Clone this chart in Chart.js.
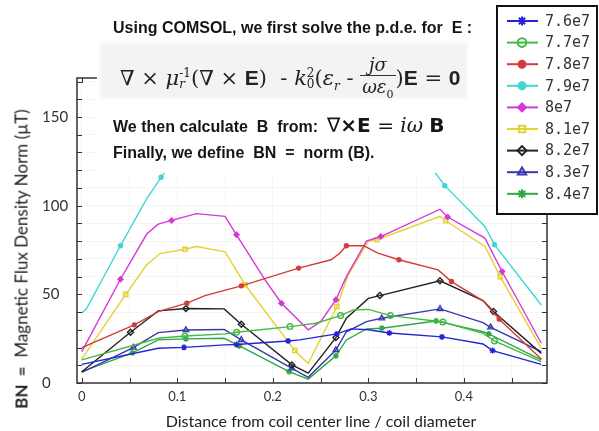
<!DOCTYPE html>
<html>
<head>
<meta charset="utf-8">
<script src="https://cdn.jsdelivr.net/npm/chart.js@4.4.1/dist/chart.umd.min.js"></script>
<style>
  body { margin: 0; background: #fff; }
  #wrap { position: relative; width: 599px; height: 431px; overflow: hidden; }
  #chart { position: absolute; left: 0; top: 0; }
  #notes { position: absolute; left: 97px; top: 0; width: 399px; height: 173px; background: #fff; }
  .line { position: absolute; left: 16px; white-space: pre; font: bold 16px "Liberation Sans", Arial, sans-serif; color: #151515; line-height: 16px; }
  #eqbox { position: absolute; left: 5px; top: 45px; width: 363px; height: 51px; background: #f3f3f3; box-shadow: 0 0 4px 2px #f3f3f3; }
  #eq { position: absolute; left: 23px; top: 54px; white-space: nowrap; font: 21px "DejaVu Serif", serif; color: #222; line-height: 30px; }
  #eq i { font-style: italic; }
  #eq b, .bs { font-family: "Liberation Sans", Arial, sans-serif; font-weight: bold; }
  .ss { display: inline-block; vertical-align: middle; font-size: 12px; line-height: 11px; text-align: left; }
  .ss span { display: block; }
  .frac { display: inline-block; vertical-align: middle; text-align: center; font-size: 18px; line-height: 21px; }
  .frac span { display: block; padding: 0 2px; }
  .frac .num { border-bottom: 1px solid #333; }
  .frml { font: 20px "DejaVu Sans", sans-serif; }
  .frml i { font-family: "DejaVu Serif", serif; font-style: italic; font-weight: normal; }
  #ytitle { position: absolute; left: 21px; top: 259px; transform: translate(-50%, -50%) rotate(-90deg); white-space: pre; font: 17px Lato, sans-serif; color: #222; }
  #xtitle { position: absolute; left: 321px; top: 420px; transform: translate(-50%, -50%); white-space: nowrap; font: 16px Lato, sans-serif; color: #222; }
</style>
</head>
<body>
<div id="wrap">
  <canvas id="chart" width="599" height="431"></canvas>
  <div id="notes">
    <div class="line" style="top:20px">Using COMSOL, we first solve the p.d.e. for  E :</div>
    <div id="eqbox"></div>
    <div id="eq">∇ × <i>μ</i><span class="ss"><span>-1</span><span><i>r</i></span></span>(∇ × <b>E</b>) &nbsp;- <i>k</i><span class="ss"><span>2</span><span>0</span></span>(<i>ε</i><sub style="font-size:12px"><i>r</i></sub> - <span class="frac"><span class="num"><i>jσ</i></span><span><i>ωε</i><sub style="font-size:11px">0</sub></span></span>)<b>E</b> = <b>0</b></div>
    <div class="line" style="top:113px">We then calculate  B  from:  <span class="frml">∇<b>×E</b> = <i>iω</i> <b>B</b></span></div>
    <div class="line" style="top:145px">Finally, we define  BN  =  norm (B).</div>
  </div>
  <div id="ytitle"><b>BN  =</b>  Magnetic Flux Density Norm (µT)</div>
  <div id="xtitle">Distance from coil center line / coil diameter</div>
</div>
<script>
// Frequencies (legend labels)
const freqLabels = ['7.6e7', '7.7e7', '7.8e7', '7.9e7', '8e7', '8.1e7', '8.2e7', '8.3e7', '8.4e7'];

// Axis ticks
const xTickValues = [0, 0.05, 0.1, 0.15, 0.2, 0.25, 0.3, 0.35, 0.4, 0.45];
const xTickLabels = ['0', '', '0.1', '', '0.2', '', '0.3', '', '0.4', ''];
const yTickValues = [0, 10, 20, 30, 40, 50, 60, 70, 80, 90, 100, 110, 120, 130, 140, 150, 160, 170];
const yTickLabels = ['0', '', '', '', '', '50', '', '', '', '', '100', '', '', '', '', '150', '', ''];

// 7.6e7
const x76 = [0, 0.08, 0.107, 0.15, 0.162, 0.216, 0.228, 0.267, 0.282, 0.3, 0.322, 0.377, 0.42, 0.43, 0.481];
const y76 = [10.5, 19.6, 20.1, 21.5, 21.7, 23.7, 24.3, 27.7, 30.5, 30, 28.2, 26, 22, 18.3, 10.5];
const m76 = [0, 0, 1, 0, 1, 1, 0, 1, 0, 0, 1, 1, 0, 1, 0];
// 7.7e7
const x77 = [0, 0.08, 0.108, 0.15, 0.162, 0.218, 0.245, 0.271, 0.284, 0.3, 0.323, 0.378, 0.42, 0.432, 0.481];
const y77 = [13, 25.2, 26.5, 27.7, 28.6, 31.8, 33.7, 38, 41.2, 41.5, 38, 34.4, 28, 23.7, 12];
const m77 = [0, 0, 1, 0, 1, 1, 0, 1, 0, 0, 1, 1, 0, 1, 0];
// 7.8e7
const x78 = [0, 0.055, 0.08, 0.11, 0.129, 0.167, 0.227, 0.261, 0.27, 0.277, 0.295, 0.31, 0.332, 0.373, 0.387, 0.42, 0.437, 0.481];
const y78 = [20, 32.8, 40.3, 45, 49.3, 54.8, 64.8, 69.5, 73.2, 77.4, 77.4, 73.2, 69.5, 63.8, 57.2, 46.3, 36, 13.5];
const m78 = [0, 1, 0, 1, 0, 1, 1, 0, 0, 1, 0, 0, 1, 0, 1, 0, 1, 0];
// 7.9e7 (middle part is hidden behind the notes in the original)
const x79 = [0, 0.005, 0.0405, 0.068, 0.083, 0.1, 0.15, 0.2, 0.25, 0.3, 0.35, 0.37, 0.38, 0.422, 0.432, 0.481];
const y79 = [39.5, 42, 77.4, 104, 116, 128, 135, 130, 132, 135, 125, 118.5, 111.3, 88.3, 78, 44];
const m79 = [0, 0, 1, 0, 1, 0, 0, 0, 0, 0, 0, 0, 1, 0, 1, 0];
// 8e7
const x80 = [0, 0.0405, 0.068, 0.08, 0.094, 0.12, 0.15, 0.162, 0.192, 0.209, 0.237, 0.25, 0.266, 0.277, 0.298, 0.313, 0.375, 0.383, 0.422, 0.44, 0.481];
const y80 = [17.7, 58.5, 84, 89.6, 91.7, 95.5, 94, 83.6, 58, 45, 30, 34.6, 46.9, 60, 80, 82.6, 98, 93.6, 81.7, 62.9, 22.4];
const m80 = [0, 1, 0, 0, 1, 0, 0, 1, 0, 1, 0, 0, 1, 0, 0, 1, 0, 1, 0, 1, 0];
// 8.1e7
const x81 = [0, 0.046, 0.068, 0.082, 0.108, 0.12, 0.15, 0.171, 0.223, 0.237, 0.267, 0.279, 0.3, 0.309, 0.375, 0.381, 0.422, 0.438, 0.481];
const y81 = [13.5, 50, 66.7, 73, 75.4, 77, 74, 55.4, 18.3, 11, 43, 61, 80, 80.8, 94, 91.5, 77, 60, 19.5];
const m81 = [0, 1, 0, 0, 1, 0, 0, 1, 1, 0, 1, 0, 0, 1, 0, 1, 0, 1, 0];
// 8.2e7
const x82 = [0, 0.051, 0.08, 0.109, 0.149, 0.167, 0.22, 0.237, 0.266, 0.277, 0.3, 0.312, 0.375, 0.42, 0.431, 0.481];
const y82 = [6.3, 28.6, 40.7, 42, 41.8, 33.1, 10.2, 5.6, 25.6, 36.5, 47.7, 49.3, 57.6, 46.5, 40.3, 16.7];
const m82 = [0, 1, 0, 1, 0, 1, 1, 0, 1, 0, 0, 1, 1, 0, 1, 0];
// 8.3e7
const x83 = [0, 0.054, 0.08, 0.109, 0.149, 0.167, 0.22, 0.237, 0.266, 0.277, 0.298, 0.314, 0.375, 0.42, 0.428, 0.481];
const y83 = [6, 20, 28.4, 29.9, 30.2, 24.3, 8.3, 3.2, 18.6, 28.9, 34.6, 36.5, 41.8, 34.1, 31.4, 17.7];
const m83 = [0, 1, 0, 1, 0, 1, 1, 0, 1, 0, 0, 1, 1, 0, 1, 0];
// 8.4e7
const x84 = [0, 0.053, 0.08, 0.109, 0.149, 0.165, 0.217, 0.237, 0.266, 0.277, 0.298, 0.314, 0.371, 0.42, 0.426, 0.481];
const y84 = [6.4, 17, 24.3, 24.9, 25.2, 20.9, 6.4, 2.2, 15.3, 24.3, 30.5, 30.9, 35, 28.9, 27.7, 13];
const m84 = [0, 1, 0, 1, 0, 1, 1, 0, 1, 0, 0, 1, 1, 0, 1, 0];

const seriesX = [x76, x77, x78, x79, x80, x81, x82, x83, x84];
const seriesY = [y76, y77, y78, y79, y80, y81, y82, y83, y84];
const seriesM = [m76, m77, m78, m79, m80, m81, m82, m83, m84];

// Line / marker looks
const colors = ['#2424d8', '#46b846', '#d23c3c', '#3fd6d6', '#d836d8', '#e4d232', '#222222', '#3838b0', '#2ea846'];
const markers = ['star', 'circle', 'circle', 'circle', 'rectRot', 'rect', 'rectRot', 'triangle', 'star'];
const markerSize = [3, 2.8, 2, 2, 2.5, 3, 3, 3.2, 3];
const hollow = [false, true, false, false, false, true, true, true, false];

const datasets = freqLabels.map((label, i) => ({
    label: label,
    data: seriesX[i].map((x, j) => ({ x: x, y: seriesY[i][j] })),
    borderColor: colors[i],
    borderWidth: 1.4,
    pointStyle: markers[i],
    pointRadius: seriesM[i].map(f => f ? markerSize[i] : 0),
    pointBorderWidth: 1.4,
    pointBorderColor: colors[i],
    pointBackgroundColor: hollow[i] ? 'rgba(255,255,255,0)' : colors[i],
    tension: 0
}));

// Box frame with inward ticks on all four sides
const framePlugin = {
    id: 'frame',
    afterDatasetsDraw(chart) {
        const { ctx, chartArea: a, scales: { x, y } } = chart;
        ctx.save();
        ctx.strokeStyle = '#333';
        ctx.lineWidth = 1;
        ctx.beginPath();
        x.ticks.forEach(t => {
            const px = Math.round(x.getPixelForValue(t.value)) + 0.5;
            ctx.moveTo(px, a.bottom); ctx.lineTo(px, a.bottom - 5);
            ctx.moveTo(px, a.top); ctx.lineTo(px, a.top + 5);
        });
        y.ticks.forEach(t => {
            const py = Math.round(y.getPixelForValue(t.value)) + 0.5;
            ctx.moveTo(a.left, py); ctx.lineTo(a.left + 5, py);
            ctx.moveTo(a.right, py); ctx.lineTo(a.right - 5, py);
        });
        ctx.stroke();
        ctx.lineWidth = 1.5;
        ctx.strokeRect(a.left, a.top, a.right - a.left, a.bottom - a.top);
        ctx.restore();
    }
};

// Legend box in the top right corner, drawn from the datasets
const legendPlugin = {
    id: 'boxLegend',
    afterDraw(chart) {
        const ctx = chart.ctx;
        const left = 497, top = 6, w = 100, h = 208;
        ctx.save();
        ctx.fillStyle = '#fff';
        ctx.fillRect(left, top, w, h);
        ctx.strokeStyle = '#111';
        ctx.lineWidth = 2;
        ctx.strokeRect(left, top, w, h);
        chart.data.datasets.forEach((ds, i) => {
            const cy = top + 15 + i * 21.6;
            ctx.strokeStyle = ds.borderColor;
            ctx.lineWidth = 2;
            ctx.beginPath();
            ctx.moveTo(left + 10, cy);
            ctx.lineTo(left + 41, cy);
            ctx.stroke();
            ctx.fillStyle = ds.pointBackgroundColor;
            ctx.lineWidth = 2;
            if (Chart.helpers && Chart.helpers.drawPoint) {
                Chart.helpers.drawPoint(ctx, { pointStyle: ds.pointStyle, radius: markerSize[i] + 1.5, borderWidth: 2, rotation: 0 }, left + 25, cy);
            }
            ctx.fillStyle = '#333';
            ctx.font = '15px "DejaVu Sans Mono", monospace';
            ctx.textBaseline = 'middle';
            ctx.textAlign = 'left';
            ctx.fillText(ds.label, left + 48, cy + 1);
        });
        ctx.restore();
    }
};

new Chart(document.getElementById('chart'), {
    type: 'line',
    data: { datasets: datasets },
    options: {
        responsive: false,
        animation: false,
        events: [],
        devicePixelRatio: 1,
        layout: { padding: { left: 42, top: 78, right: 52, bottom: 0 } },
        plugins: { legend: { display: false }, tooltip: { enabled: false } },
        scales: {
            x: {
                type: 'linear',
                min: -0.005,
                max: 0.487,
                afterFit: s => { s.height = 48; },
                afterBuildTicks: s => { s.ticks = xTickValues.map(v => ({ value: v })); },
                grid: { color: 'rgba(0,0,0,0.04)', drawTicks: false },
                border: { display: false },
                ticks: {
                    padding: 6,
                    color: '#333',
                    font: { family: 'Lato', size: 13 },
                    maxRotation: 0,
                    autoSkip: false,
                    callback: (v, i) => xTickLabels[i]
                }
            },
            y: {
                min: 0,
                max: 172,
                afterFit: s => { s.width = 35; },
                afterBuildTicks: s => { s.ticks = yTickValues.map(v => ({ value: v })); },
                grid: { color: 'rgba(0,0,0,0.04)', drawTicks: false },
                border: { display: false },
                ticks: {
                    crossAlign: 'far',
                    padding: 0,
                    color: '#333',
                    font: { family: 'Lato', size: 15 },
                    autoSkip: false,
                    callback: (v, i) => yTickLabels[i]
                }
            }
        }
    },
    plugins: [framePlugin, legendPlugin]
});
</script>
</body>
</html>
